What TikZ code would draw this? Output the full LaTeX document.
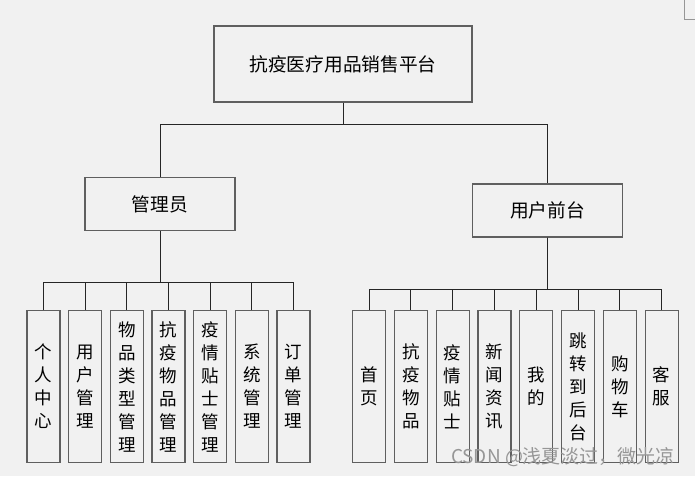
\documentclass[tikz,border=0pt]{standalone}
\usepackage{fontspec}
\setmainfont{Noto Sans CJK SC}
\usetikzlibrary{positioning}
\definecolor{pagebg}{RGB}{241,241,241}
\definecolor{boxline}{RGB}{95,95,95}
\definecolor{markgray}{RGB}{150,150,150}

\tikzset{
    box/.style={draw=boxline, line width=1.2pt, inner sep=0pt, font=\fontsize{17.5}{23}\selectfont},
    topbox/.style={box, minimum width=258, minimum height=76, font=\fontsize{18.7}{22}\selectfont},
    groupbox/.style={box, minimum width=150, minimum height=53, font=\fontsize{18.7}{22}\selectfont},
    leafbox/.style={box, minimum width=33, minimum height=152, anchor=north, align=center},
    link/.style={draw=black!85, line width=0.8pt}
}

\begin{document}
\begin{tikzpicture}[x=1pt, y=-1pt]
    \fill[pagebg] (0,0) rectangle (695,476);
    \useasboundingbox (0,0) rectangle (695,476);
    \draw[markgray, line width=0.8pt] (684,0) -- (684,19.5) -- (695,19.5);

    % top levels
    \node[topbox] (platform) at (343,64) {抗疫医疗用品销售平台};
    \node[groupbox] (admin) at (160,204) {管理员};
    \node[groupbox] (front) at (547.5,210.5) {用户前台};

    \draw[link] (platform.south) -- ++(0,22) -| (admin.north);
    \draw[link] (platform.south) -- ++(0,22) -| (front.north);

    % admin functions
    \foreach \i/\txt in {0/{个\\人\\中\\心}, 1/{用\\户\\管\\理}, 2/{物\\品\\类\\型\\管\\理},
        3/{抗\\疫\\物\\品\\管\\理}, 4/{疫\\情\\贴\\士\\管\\理}, 5/{系\\统\\管\\理}, 6/{订\\单\\管\\理}} {
        \pgfmathsetmacro\xpos{43.5 + \i*41.67}
        \node[leafbox] (a\i) at (\xpos,310) {\txt};
        \draw[link] (admin.south) -- ++(0,51.5) -| (a\i.north);
    }

    % front functions
    \foreach \i/\txt in {0/{首\\页}, 1/{抗\\疫\\物\\品}, 2/{疫\\情\\贴\\士}, 3/{新\\闻\\资\\讯},
        4/{我\\的}, 5/{跳\\转\\到\\后\\台}, 6/{购\\物\\车}, 7/{客\\服}} {
        \pgfmathsetmacro\xpos{369 + \i*41.8}
        \node[leafbox] (u\i) at (\xpos,310) {\txt};
        \draw[link] (front.south) -- ++(0,52) -| (u\i.north);
    }

    \node[font=\fontsize{19}{22}\selectfont, text=markgray] (mark) at (563,457) {CSDN @浅夏淡过，微光凉};
\end{tikzpicture}
\end{document}
